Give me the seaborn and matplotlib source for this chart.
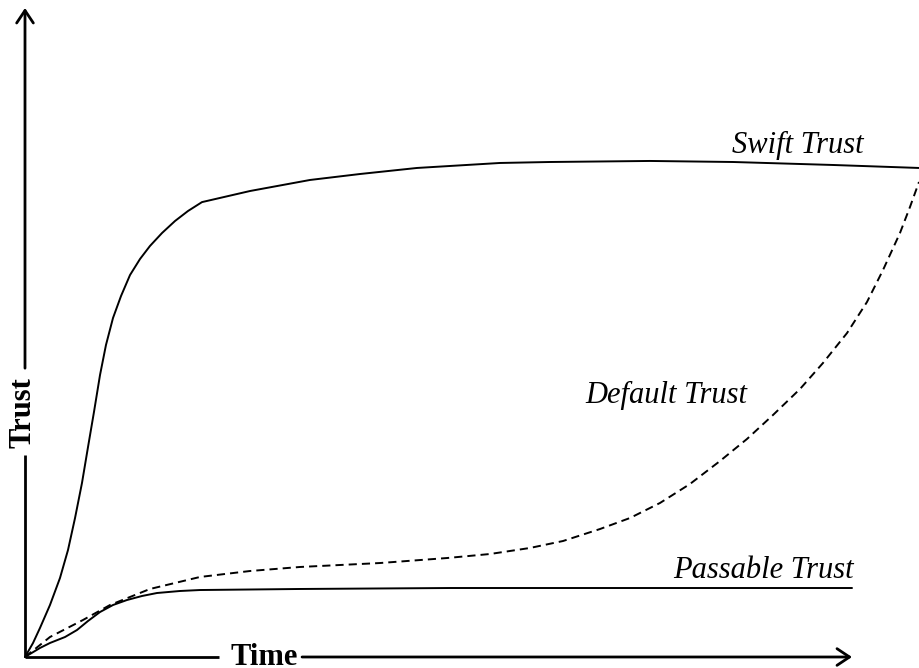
import matplotlib
matplotlib.use("Agg")
import matplotlib.pyplot as plt
import seaborn as sns

# ---- data (time units: x-arrow tip = 100; trust units: y-arrow tip = 100) ----
swift_time = [0, 0.97, 1.81, 3.02, 4.23, 5.20, 6.05, 6.89, 7.62, 8.34, 9.07, 9.79,
              10.64, 11.61, 12.70, 13.91, 15.11, 16.57, 18.14, 19.71, 21.40, 27.21,
              34.46, 40.51, 47.40, 57.44, 63.48, 75.57, 85.61, 97.70, 108.10]
swift_trust = [0, 2.16, 4.47, 8.01, 12.17, 16.49, 21.42, 26.81, 32.36, 37.75, 43.45, 48.07,
               52.23, 55.62, 58.86, 61.33, 63.33, 65.33, 67.18, 68.72, 70.09, 71.80,
               73.50, 74.42, 75.35, 76.12, 76.27, 76.43, 76.27, 75.81, 75.35]

passable_time = [0, 1.81, 3.02, 4.84, 6.29, 7.62, 9.07, 10.64, 12.33, 14.15, 15.96,
                 18.74, 21.16, 33.25, 51.39, 100.0]
passable_trust = [0, 1.39, 2.16, 3.08, 4.16, 5.55, 6.93, 8.01, 8.78, 9.40, 9.86,
                  10.17, 10.32, 10.48, 10.63, 10.63]

default_time = [0, 3.02, 7.01, 10.28, 15.11, 21.16, 27.21, 33.25, 42.93, 51.03, 56.23,
                61.06, 65.05, 69.53, 73.16, 76.78, 80.41, 84.04, 87.30, 90.45, 93.71,
                96.49, 99.40, 101.81, 103.75, 105.80, 107.01, 108.10]
default_trust = [0, 3.08, 5.70, 8.01, 10.48, 12.33, 13.25, 13.87, 14.48, 15.25, 15.87,
                 16.80, 17.87, 19.72, 21.42, 23.73, 26.66, 30.20, 33.59, 37.29, 41.29,
                 45.30, 49.92, 54.70, 59.63, 65.33, 69.34, 73.19]

series_labels = ["Swift Trust", "Default Trust", "Passable Trust"]
axis_labels = ["Time", "Trust"]

# ---- figure ----
sns.set_theme(style="white")
plt.rcParams["font.family"] = ["Liberation Serif", "DejaVu Serif"]

fig = plt.figure(figsize=(9.19, 6.68), dpi=100)
ax = fig.add_axes([0, 0, 1, 1])
ax.set_xlim(-3.023, 108.10)
ax.set_ylim(-1.695, 101.23)
ax.axis("off")

line_kw = dict(ax=ax, color="black", lw=1.4, sort=False, estimator=None,
               solid_joinstyle="round", dash_joinstyle="round")
sns.lineplot(x=swift_time, y=swift_trust, **line_kw)
sns.lineplot(x=passable_time, y=passable_trust, **line_kw)
sns.lineplot(x=default_time, y=default_trust, **line_kw)
ax.lines[-1].set_dashes((4.2, 2.6))

# ---- axes with arrows, broken by their labels ----
axis_lw = 2.0
arrow_kw = dict(arrowstyle="->,head_length=0.45,head_width=0.3", lw=axis_lw,
                color="black", shrinkA=0, shrinkB=0, mutation_scale=20)
ax.plot([0, 0], [0, 31.1], color="black", lw=axis_lw, solid_capstyle="butt")
ax.annotate("", xy=(0, 100), xytext=(0, 44.5), arrowprops=arrow_kw)
ax.plot([0, 23.5], [0, 0], color="black", lw=axis_lw, solid_capstyle="butt")
ax.annotate("", xy=(100, 0), xytext=(33.5, 0), arrowprops=arrow_kw)

ax.text(28.9, -1.3, axis_labels[0], ha="center", va="baseline",
        fontsize=22, fontweight="bold", color="black")
ax.text(-0.24, 37.6, axis_labels[1], ha="center", va="center", rotation=90,
        fontsize=22, fontweight="bold", color="black")

# ---- series labels ----
ax.text(85.5, 77.66, series_labels[0], ha="left", va="baseline",
        fontsize=22, style="italic", color="black")
ax.text(67.7, 39.1, series_labels[1], ha="left", va="baseline",
        fontsize=22, style="italic", color="black")
ax.text(78.4, 12.2, series_labels[2], ha="left", va="baseline",
        fontsize=22, style="italic", color="black")

fig.savefig("out.png", dpi=100, facecolor="white")
